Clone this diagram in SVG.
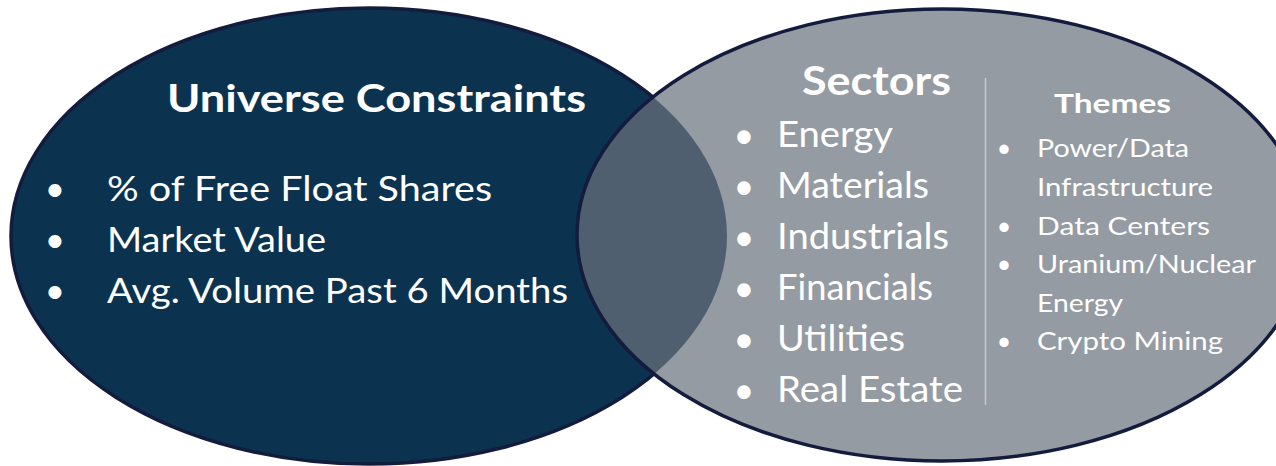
<svg xmlns="http://www.w3.org/2000/svg" width="1276" height="466" viewBox="0 0 1276 466">
<style>
  text { font-family: "Lato", "Open Sans", "Liberation Sans", sans-serif; fill: #ffffff; }
  .h1 { font-weight: bold; font-size: 38px; }
  .h2 { font-weight: bold; font-size: 40px; }
  .h3 { font-weight: bold; font-size: 27px; }
  .lb { font-size: 35px; }
  .sb { font-size: 36px; }
  .tb { font-size: 25px; }
  .edge { fill: none; stroke: #131c3c; stroke-width: 3.5; }
</style>
<defs>
  <clipPath id="rightClip">
    <ellipse cx="942" cy="235" rx="365" ry="226"/>
  </clipPath>
</defs>
<rect width="1276" height="466" fill="#ffffff"/>
<g id="left-circle">
  <ellipse cx="369" cy="236" rx="358" ry="228" class="edge" style="fill:#0b3350"/>
</g>
<g id="right-circle">
  <ellipse cx="942" cy="235" rx="365" ry="226" fill="#949ba3"/>
  <ellipse cx="369" cy="236" rx="358" ry="228" fill="#4f5f70" clip-path="url(#rightClip)"/>
  <ellipse cx="942" cy="235" rx="365" ry="226" class="edge"/>
  <line x1="985.5" y1="78" x2="985.5" y2="405" stroke="#c5c9cd" stroke-width="1.5"/>
</g>
<g id="connectors"></g>
<g id="universe-text">
  <text class="h1" x="167" y="112" textLength="419" lengthAdjust="spacingAndGlyphs">Universe Constraints</text>
  <text class="lb" x="55" y="201" text-anchor="middle">•</text>
  <text class="lb" x="55" y="252" text-anchor="middle">•</text>
  <text class="lb" x="55" y="303" text-anchor="middle">•</text>
  <text class="lb" x="107" y="201" textLength="385" lengthAdjust="spacingAndGlyphs">% of Free Float Shares</text>
  <text class="lb" x="107" y="252" textLength="219" lengthAdjust="spacingAndGlyphs">Market Value</text>
  <text class="lb" x="107" y="303" textLength="461" lengthAdjust="spacingAndGlyphs">Avg. Volume Past 6 Months</text>
</g>
<g id="sectors-text">
  <text class="h2" x="802" y="95" textLength="149" lengthAdjust="spacingAndGlyphs">Sectors</text>
  <text class="sb" x="744" y="148" text-anchor="middle">•</text>
  <text class="sb" x="744" y="199" text-anchor="middle">•</text>
  <text class="sb" x="744" y="250" text-anchor="middle">•</text>
  <text class="sb" x="744" y="301" text-anchor="middle">•</text>
  <text class="sb" x="744" y="352" text-anchor="middle">•</text>
  <text class="sb" x="744" y="403" text-anchor="middle">•</text>
  <text class="sb" x="777" y="147" textLength="116" lengthAdjust="spacingAndGlyphs">Energy</text>
  <text class="sb" x="777" y="198" textLength="152" lengthAdjust="spacingAndGlyphs">Materials</text>
  <text class="sb" x="777" y="249" textLength="172" lengthAdjust="spacingAndGlyphs">Industrials</text>
  <text class="sb" x="777" y="300" textLength="156" lengthAdjust="spacingAndGlyphs">Financials</text>
  <text class="sb" x="777" y="351" textLength="128" lengthAdjust="spacingAndGlyphs">Utilities</text>
  <text class="sb" x="777" y="402" textLength="186" lengthAdjust="spacingAndGlyphs">Real Estate</text>
</g>
<g id="themes-text">
  <text class="h3" x="1054" y="113" textLength="117" lengthAdjust="spacingAndGlyphs">Themes</text>
  <text class="tb" x="1004" y="157" text-anchor="middle">•</text>
  <text class="tb" x="1004" y="235" text-anchor="middle">•</text>
  <text class="tb" x="1004" y="273" text-anchor="middle">•</text>
  <text class="tb" x="1004" y="350" text-anchor="middle">•</text>
  <text class="tb" x="1037" y="157" textLength="152" lengthAdjust="spacingAndGlyphs">Power/Data</text>
  <text class="tb" x="1037" y="196" textLength="176" lengthAdjust="spacingAndGlyphs">Infrastructure</text>
  <text class="tb" x="1037" y="235" textLength="173" lengthAdjust="spacingAndGlyphs">Data Centers</text>
  <text class="tb" x="1037" y="273" textLength="219" lengthAdjust="spacingAndGlyphs">Uranium/Nuclear</text>
  <text class="tb" x="1037" y="312" textLength="86" lengthAdjust="spacingAndGlyphs">Energy</text>
  <text class="tb" x="1037" y="350" textLength="186" lengthAdjust="spacingAndGlyphs">Crypto Mining</text>
</g>
</svg>
